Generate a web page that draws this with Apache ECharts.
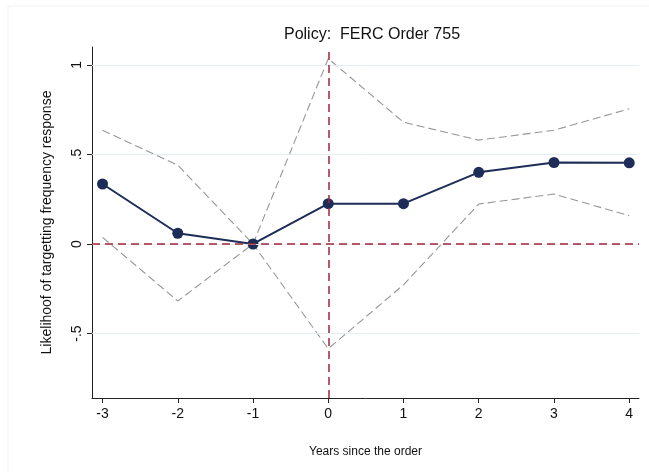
<!DOCTYPE html>
<html>
<head>
<meta charset="utf-8">
<script src="https://cdn.jsdelivr.net/npm/echarts@6/dist/echarts.min.js"></script>
<style>
html,body{margin:0;padding:0;background:#fff;}
#chart{width:649px;height:472px;}
</style>
</head>
<body>
<div id="chart"></div>
<script>
var years = [-3, -2, -1, 0, 1, 2, 3, 4];
var coef = [0.335, 0.06, 0, 0.225, 0.225, 0.40, 0.455, 0.453];
var upper = [0.635, 0.44, 0, 1.035, 0.68, 0.58, 0.635, 0.755];
var lower = [0.037, -0.318, 0, -0.585, -0.228, 0.223, 0.279, 0.158];
var yTicks = [-0.5, 0, 0.5, 1];

function pairs(vals){
	var out=[];
	for(var i=0;i<years.length;i++){ out.push([years[i],vals[i]]); }
	return out;
}
function fmt(v){
	var s=String(v);
	return s.replace(/^0\./,'.').replace(/^-0\./,'-.');
}

var chart = echarts.init(document.getElementById('chart'));
var option = {
	animation:false,
	backgroundColor:'#fff',
	graphic:[{
		type:'rect', silent:true, z:-1,
		shape:{x:8,y:6,width:700,height:700},
		style:{fill:'none',stroke:'#eef1f4',lineWidth:1}
	}],
	title:{
		text:'Policy:  FERC Order 755',
		left:367, top:22, textAlign:'center',
		textStyle:{fontFamily:'Liberation Sans',fontSize:16,fontWeight:'normal',color:'#111'}
	},
	grid:{left:92,right:10,top:47,bottom:74},
	xAxis:{
		type:'value', min:-3.14, max:4.13,
		name:'Years since the order', nameLocation:'middle', nameGap:48,
		nameTextStyle:{fontFamily:'Liberation Sans',fontSize:12,color:'#111'},
		axisLine:{onZero:false,lineStyle:{color:'#222',width:1}},
		axisTick:{show:true,length:5,customValues:years,lineStyle:{color:'#222'}},
		axisLabel:{customValues:years,fontFamily:'Liberation Sans',fontSize:14,color:'#111',margin:9},
		splitLine:{show:false}
	},
	yAxis:{
		type:'value', min:-0.86, max:1.1,
		name:'Likelihoof of targetting frequency response', nameLocation:'middle', nameGap:38,
		nameTextStyle:{fontFamily:'Liberation Sans',fontSize:14,color:'#111'},
		axisLine:{show:true,onZero:false,lineStyle:{color:'#222',width:1}},
		axisTick:{show:true,length:5,customValues:yTicks,lineStyle:{color:'#222'}},
		axisLabel:{customValues:yTicks,rotate:90,formatter:fmt,fontFamily:'Liberation Sans',fontSize:14,color:'#111',margin:8},
		splitLine:{show:false}
	},
	series:[
		{
			type:'line', data:[], silent:true,
			markLine:{
				symbol:'none', silent:true, label:{show:false},
				lineStyle:{color:'#e6edf1',width:1,type:'solid'},
				data:yTicks.map(function(v){return {yAxis:v};})
			}
		},
		{
			type:'line', data:[], silent:true,
			markLine:{
				symbol:'none', silent:true, label:{show:false},
				lineStyle:{color:'#9e2639',width:1.5,type:[8,5]},
				data:[{yAxis:0},{xAxis:0}]
			}
		},
		{
			type:'line', data:pairs(upper), symbol:'none',
			lineStyle:{color:'#969696',width:1.1,type:[8,4]}
		},
		{
			type:'line', data:pairs(lower), symbol:'none',
			lineStyle:{color:'#969696',width:1.1,type:[8,4]}
		},
		{
			type:'line', data:pairs(coef), symbol:'circle', symbolSize:11,
			lineStyle:{color:'#1e2c58',width:2},
			itemStyle:{color:'#1e2c58'}
		}
	]
};
chart.setOption(option);
</script>
</body>
</html>
